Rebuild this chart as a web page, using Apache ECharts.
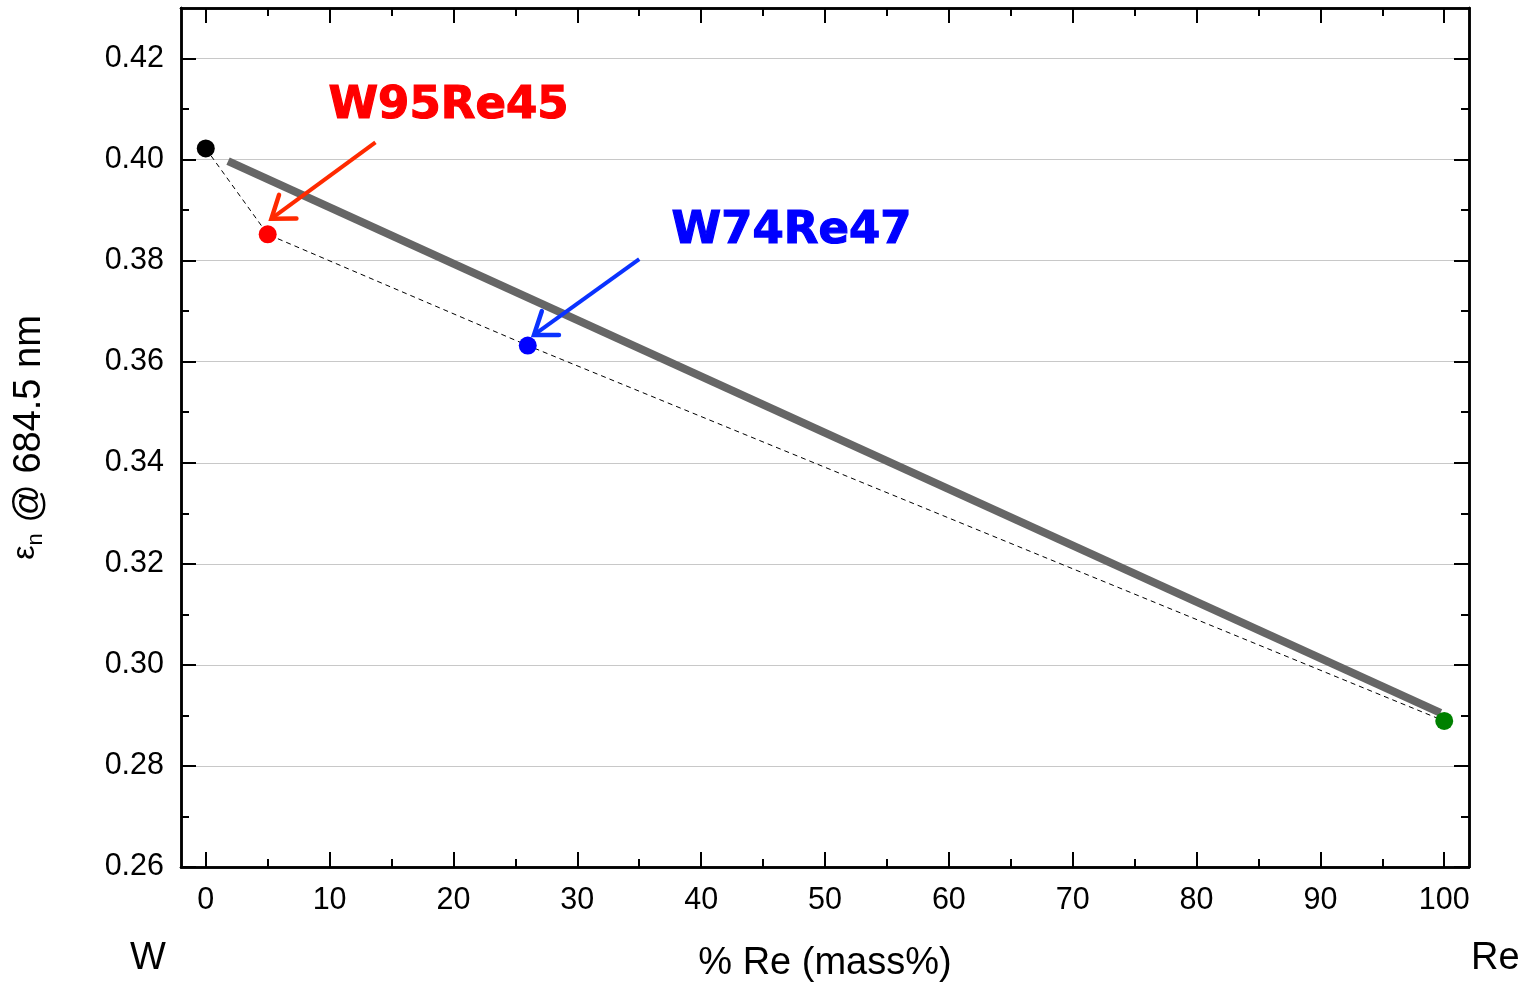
<!DOCTYPE html>
<html>
<head>
<meta charset="utf-8">
<title>Normal emissivity of W–Re alloys at 684.5 nm</title>
<script src="https://cdn.jsdelivr.net/npm/echarts@6/dist/echarts.min.js"></script>
<style>
  html, body { margin: 0; padding: 0; background: #ffffff; }
  #chart { width: 1526px; height: 987px; }
</style>
</head>
<body>
<div id="chart"></div>
<script>
// Measured samples: Re content (mass %) and normal emissivity at 684.5 nm
const reMass = [0, 5, 26, 100];
const emissivity = [0.4022, 0.3852, 0.3632, 0.2889];

// Straight reference line between the pure-metal ends
const trendRe = [1.8, 99.7];
const trendEps = [0.3997, 0.2905];

// Alloy call-outs: label text, label anchor, arrow start and arrow tip (data units)
const calloutNames = ['W95Re45', 'W74Re47'];
const calloutLabelRe = [19.6, 47.3];
const calloutLabelEps = [0.4105, 0.3858];
const arrowFromRe = [13.7, 35.0];
const arrowFromEps = [0.4034, 0.3803];
const arrowToRe = [5.3, 26.5];
const arrowToEps = [0.3883, 0.3653];

// Axis ticks
const xMajorTicks = [0, 10, 20, 30, 40, 50, 60, 70, 80, 90, 100];
const xMinorTicks = [5, 15, 25, 35, 45, 55, 65, 75, 85, 95];
const yMajorTicks = [0.26, 0.28, 0.30, 0.32, 0.34, 0.36, 0.38, 0.40, 0.42];
const yMinorTicks = [0.27, 0.29, 0.31, 0.33, 0.35, 0.37, 0.39, 0.41];

// Styling
const pointColors = ['#000000', '#ff0000', '#0000ff', '#008000'];
const calloutTextColors = ['#ff0000', '#0000ff'];
const calloutArrowColors = ['#ff2a00', '#0a32ff'];
const FONT = '"Liberation Sans", Arial, Helvetica, sans-serif';
const X_RANGE = [-2, 102];
const Y_RANGE = [0.26, 0.43];

const chart = echarts.init(document.getElementById('chart'), null, { renderer: 'canvas' });

function xAxisDef(position, ticks, tickLen, withLabels, extra) {
  return Object.assign({
    type: 'value', position: position, min: X_RANGE[0], max: X_RANGE[1],
    axisLine: { show: true, onZero: false, lineStyle: { color: '#000', width: 2.5 } },
    axisTick: { show: true, inside: true, length: tickLen, customValues: ticks,
      lineStyle: { color: '#000', width: 2 } },
    axisLabel: withLabels ? {
      show: true, customValues: ticks, margin: 18, color: '#000',
      fontFamily: FONT, fontSize: 30.5, formatter: v => String(Math.round(v))
    } : { show: false },
    splitLine: { show: false }
  }, extra || {});
}

function yAxisDef(position, ticks, tickLen, withLabels, extra) {
  return Object.assign({
    type: 'value', position: position, min: Y_RANGE[0], max: Y_RANGE[1],
    axisLine: { show: true, onZero: false, lineStyle: { color: '#000', width: 2.5 } },
    axisTick: { show: true, inside: true, length: tickLen, customValues: ticks,
      lineStyle: { color: '#000', width: 2 } },
    axisLabel: withLabels ? {
      show: true, customValues: ticks, margin: 17, color: '#000',
      fontFamily: FONT, fontSize: 30.5, formatter: v => v.toFixed(2)
    } : { show: false },
    splitLine: { show: false }
  }, extra || {});
}

const scatterData = reMass.map((x, i) => ({
  value: [x, emissivity[i]],
  itemStyle: { color: pointColors[i], opacity: 1 }
}));

const calloutData = calloutNames.map((name, i) => [
  calloutLabelRe[i], calloutLabelEps[i],
  arrowFromRe[i], arrowFromEps[i],
  arrowToRe[i], arrowToEps[i]
]);

function renderCallout(params, api) {
  const i = params.dataIndex;
  const labelPt = api.coord([api.value(0), api.value(1)]);
  const from = api.coord([api.value(2), api.value(3)]);
  const tip = api.coord([api.value(4), api.value(5)]);
  const dx = from[0] - tip[0], dy = from[1] - tip[1];
  const len = Math.sqrt(dx * dx + dy * dy);
  const ux = dx / len, uy = dy / len;
  const head = 25, ang = 36 * Math.PI / 180;
  const rot = (a) => [
    tip[0] + head * (ux * Math.cos(a) - uy * Math.sin(a)),
    tip[1] + head * (ux * Math.sin(a) + uy * Math.cos(a))
  ];
  const armA = rot(ang), armB = rot(-ang);
  const color = calloutArrowColors[i];
  return {
    type: 'group',
    children: [
      { type: 'line', shape: { x1: from[0], y1: from[1], x2: tip[0], y2: tip[1] },
        style: { stroke: color, lineWidth: 4 } },
      { type: 'polyline', shape: { points: [armA, tip, armB] },
        style: { stroke: color, lineWidth: 4.5, fill: null, lineJoin: 'miter', lineCap: 'round' } },
      { type: 'text', x: labelPt[0], y: labelPt[1],
        style: {
          text: calloutNames[i], fill: calloutTextColors[i],
          stroke: calloutTextColors[i], lineWidth: 1.2,
          font: 'bold 45px "DejaVu Sans", Verdana, sans-serif',
          align: 'center', verticalAlign: 'middle',
          shadowColor: 'rgba(0,0,0,0.28)', shadowBlur: 4, shadowOffsetX: 3, shadowOffsetY: 3
        } }
    ]
  };
}

const option = {
  backgroundColor: '#ffffff',
  animation: false,
  grid: { left: 181, right: 57, top: 8, bottom: 120, containLabel: false, outerBoundsMode: 'none' },
  xAxis: [
    xAxisDef('bottom', xMajorTicks, 15, true, {
      name: '% Re (mass%)', nameLocation: 'middle', nameGap: 78,
      nameTextStyle: { color: '#000', fontFamily: FONT, fontSize: 38 }
    }),
    xAxisDef('bottom', xMinorTicks, 8, false),
    xAxisDef('top', xMajorTicks, 15, false),
    xAxisDef('top', xMinorTicks, 8, false)
  ],
  yAxis: [
    yAxisDef('left', yMajorTicks, 15, true, {
      name: '{e|ε}{n|n} @ 684.5 nm', nameLocation: 'middle', nameRotate: 90, nameGap: 130,
      nameTextStyle: {
        color: '#000', fontFamily: FONT, fontSize: 38,
        rich: {
          e: { fontFamily: FONT, fontSize: 32, color: '#000', padding: [0, 0, 10, 0] },
          n: { fontFamily: FONT, fontSize: 22, color: '#000', padding: [12, 0, 0, 0] }
        }
      },
      splitLine: { show: true, lineStyle: { color: '#c8c8c8', width: 1 } }
    }),
    yAxisDef('left', yMinorTicks, 8, false),
    yAxisDef('right', yMajorTicks, 15, false),
    yAxisDef('right', yMinorTicks, 8, false)
  ],
  series: [
    {
      name: 'reference line', type: 'line', xAxisIndex: 0, yAxisIndex: 0,
      data: trendRe.map((x, i) => [x, trendEps[i]]),
      symbol: 'none', silent: true, z: 2,
      lineStyle: { color: '#666666', width: 8, cap: 'butt' }
    },
    {
      name: 'measured trend', type: 'line', xAxisIndex: 0, yAxisIndex: 0,
      data: reMass.map((x, i) => [x, emissivity[i]]),
      symbol: 'none', silent: true, z: 3,
      lineStyle: { color: '#000', width: 1, type: [5, 4] }
    },
    {
      name: 'samples', type: 'scatter', xAxisIndex: 0, yAxisIndex: 0,
      data: scatterData, symbol: 'circle', symbolSize: 18, z: 5,
      itemStyle: { opacity: 1 }
    },
    {
      name: 'callouts', type: 'custom', xAxisIndex: 0, yAxisIndex: 0,
      data: calloutData, renderItem: renderCallout, clip: false, z: 6,
      encode: { x: [0, 2, 4], y: [1, 3, 5] }, silent: true
    }
  ],
  graphic: [
    { type: 'text', left: 130, top: 940,
      style: { text: 'W', fill: '#000', font: '38px ' + FONT } },
    { type: 'text', left: 1471, top: 940,
      style: { text: 'Re', fill: '#000', font: '38px ' + FONT } }
  ]
};

chart.setOption(option);
</script>
</body>
</html>
